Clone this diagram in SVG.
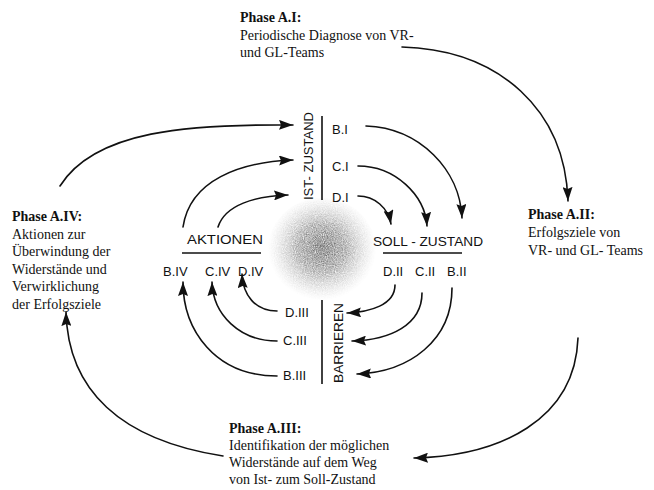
<svg xmlns="http://www.w3.org/2000/svg" width="654" height="490" viewBox="0 0 654 490">
<style>
.t{font-family:"Liberation Serif","Times New Roman",serif;font-size:14px;fill:#111}
.b{font-weight:bold}
.h{font-family:"Liberation Sans",Arial,sans-serif;font-size:13px;fill:#111}
.c{fill:none;stroke:#111;stroke-width:1.6;stroke-linecap:round}
.l{stroke:#111;stroke-width:1.6}
</style>
<defs>
<marker id="ah" viewBox="0 0 14 10" refX="14" refY="5" markerWidth="14" markerHeight="10" markerUnits="userSpaceOnUse" orient="auto"><path d="M0,0 L14,5 L0,10 L2,5 z" fill="#111"/></marker>
<radialGradient id="blob" cx="0.5" cy="0.48" r="0.5">
<stop offset="0" stop-color="#333" stop-opacity="1"/>
<stop offset="0.45" stop-color="#555" stop-opacity="0.75"/>
<stop offset="1" stop-color="#999" stop-opacity="0"/>
</radialGradient>
<filter id="grain" x="0" y="0" width="1" height="1">
<feTurbulence type="fractalNoise" baseFrequency="0.9" numOctaves="2" seed="4" result="n"/>
<feComposite in="SourceGraphic" in2="n" operator="in"/>
</filter>
</defs>
<g id="center"><ellipse cx="322" cy="250" rx="54" ry="52" fill="url(#blob)" filter="url(#grain)"/></g>
<g id="phaseA1"><text class="t b" x="240" y="22">Phase A.I:</text><text class="t" x="240" y="40">Periodische Diagnose von VR-</text><text class="t" x="240" y="57">und GL-Teams</text></g>
<g id="phaseA2"><text class="t b" x="528" y="219">Phase A.II:</text><text class="t" x="528" y="237">Erfolgsziele von</text><text class="t" x="528" y="255">VR- und GL- Teams</text></g>
<g id="phaseA3"><text class="t b" x="229" y="433">Phase A.III:</text><text class="t" x="229" y="450">Identifikation der möglichen</text><text class="t" x="229" y="467">Widerstände auf dem Weg</text><text class="t" x="229" y="484">von Ist- zum Soll-Zustand</text></g>
<g id="phaseA4"><text class="t b" x="12" y="221">Phase A.IV:</text><text class="t" x="12" y="238.5">Aktionen zur</text><text class="t" x="12" y="256">Überwindung der</text><text class="t" x="12" y="273.5">Widerstände und</text><text class="t" x="12" y="291">Verwirklichung</text><text class="t" x="12" y="308.5">der Erfolgsziele</text></g>
<g id="ist"><line class="l" x1="322" y1="116" x2="322" y2="200"/><text class="h" transform="translate(313,156) rotate(-90)" text-anchor="middle" textLength="88" lengthAdjust="spacingAndGlyphs">IST- ZUSTAND</text>
<text class="h" x="332" y="134">B.I</text><text class="h" x="332" y="171">C.I</text><text class="h" x="332" y="202">D.I</text></g>
<g id="soll"><text class="h" x="373" y="246" textLength="110" lengthAdjust="spacingAndGlyphs">SOLL - ZUSTAND</text><line class="l" x1="383" y1="253" x2="462" y2="253"/>
<text class="h" x="383" y="276">D.II</text><text class="h" x="415" y="276">C.II</text><text class="h" x="447" y="276">B.II</text></g>
<g id="barrieren"><line class="l" x1="322" y1="300" x2="322" y2="384"/><text class="h" transform="translate(343,343) rotate(-90)" text-anchor="middle" textLength="80" lengthAdjust="spacingAndGlyphs">BARRIEREN</text>
<text class="h" x="285" y="317">D.III</text><text class="h" x="283" y="345">C.III</text><text class="h" x="283" y="380">B.III</text></g>
<g id="aktionen"><text class="h" x="187" y="244" textLength="76" lengthAdjust="spacingAndGlyphs">AKTIONEN</text><line class="l" x1="182" y1="253" x2="261" y2="253"/>
<text class="h" x="163" y="276">B.IV</text><text class="h" x="205" y="276">C.IV</text><text class="h" x="238" y="276">D.IV</text></g>
<g id="connectors" marker-end="url(#ah)">
<path class="c" d="M60,186 C95,130 190,124 293,125"/>
<path class="c" d="M402,47 C500,50 565,110 568,201"/>
<path class="c" d="M578,338 C575,420 500,456 414,458"/>
<path class="c" d="M223,456 C120,440 68,390 66,312"/>
<path class="c" d="M183,227 C190,180 240,162 293,160"/>
<path class="c" d="M218,227 C225,205 255,196 288,195"/>
<path class="c" d="M366,126 C420,128 460,170 462,218"/>
<path class="c" d="M358,166 C395,166 425,195 427,226"/>
<path class="c" d="M358,196 C375,196 388,208 391,224"/>
<path class="c" d="M395,285 C395,305 370,312 347,313"/>
<path class="c" d="M422,293 C422,325 390,340 352,341"/>
<path class="c" d="M452,288 C452,340 410,372 357,374"/>
<path class="c" d="M277,311 C255,311 243,295 242,274"/>
<path class="c" d="M277,341 C240,341 213,315 212,282"/>
<path class="c" d="M277,376 C215,376 183,330 183,282"/>
</g>
</svg>
